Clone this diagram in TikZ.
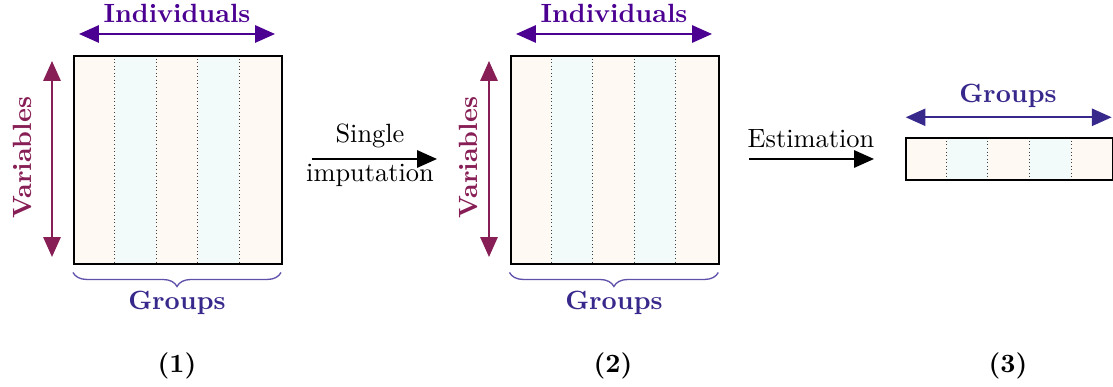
\documentclass[tikz,border=0pt]{standalone}
\usetikzlibrary{arrows.meta,decorations.pathreplacing}
\definecolor{indiv}{RGB}{75,0,145}
\definecolor{vars}{RGB}{135,30,85}
\definecolor{grp}{RGB}{55,40,140}
\definecolor{brc}{RGB}{95,80,170}
\definecolor{peach}{RGB}{255,249,244}
\definecolor{mint}{RGB}{243,250,250}
\begin{document}
\begin{tikzpicture}[x=0.379pt,y=-0.379pt,
  dbl/.style={line width=0.8pt,{Triangle[length=7.5pt,width=6.5pt]}-{Triangle[length=7.5pt,width=6.5pt]}},
  flow/.style={line width=0.8pt,-{Triangle[length=7.5pt,width=6.5pt]}},
  matbox/.style={draw,line width=0.8pt,inner sep=0pt,anchor=north west},
  sep/.style={densely dotted,line width=0.35pt,black!75},
  lab/.style={font=\bfseries,inner sep=0pt},
  bracestyle/.style={brc,line width=0.5pt,decorate,decoration={brace,mirror,amplitude=5.3pt}}]
\useasboundingbox (0,0) rectangle (1113,387);
% ---------- panel 1 ----------
\fill[peach] (73,55) rectangle (281,262.7);
\fill[mint] (114.7,55) rectangle (156,262.7);
\fill[mint] (197.7,55) rectangle (239.3,262.7);
\foreach \x in {114.7,156,197.7,239.3} \draw[sep] (\x,55) -- (\x,262.7);
\node[matbox,minimum width=78.83pt,minimum height=78.71pt] (m1) at (73,55) {};
\coordinate (i1l) at (79,34); \coordinate (i1r) at (275,34);
\draw[dbl,indiv] (i1l) -- (i1r);
\node[lab,text=indiv,anchor=base] (t1) at (177,23) {Individuals};
\coordinate (v1t) at (52,61); \coordinate (v1b) at (52,257);
\draw[dbl,vars] (v1t) -- (v1b);
\node[lab,text=vars,rotate=90] (tv1) at (22,158) {Variables};
\coordinate (b1l) at (73,272.5); \coordinate (b1r) at (281,272.5);
\draw[bracestyle] (b1l) -- (b1r);
\node[lab,text=grp,anchor=base] (g1) at (177,310) {Groups};
\node[lab] (n1) at (177,366) {(1)};
% ---------- arrow 1 ----------
\coordinate (a1s) at (311.7,159); \coordinate (a1e) at (437,159);
\draw[flow] (a1s) -- (a1e);
\node[inner sep=0pt,anchor=base] (s1) at (370,143) {Single};
\node[inner sep=0pt,anchor=base] (s2) at (370,182) {imputation};
% ---------- panel 2 ----------
\fill[peach] (509.5,55) rectangle (718.3,262.7);
\fill[mint] (551.2,55) rectangle (592.5,262.7);
\fill[mint] (634.2,55) rectangle (675.8,262.7);
\foreach \x in {551.2,592.5,634.2,675.8} \draw[sep] (\x,55) -- (\x,262.7);
\node[matbox,minimum width=79.1pt,minimum height=78.71pt] (m2) at (509.5,55) {};
\coordinate (i2l) at (516,34); \coordinate (i2r) at (712,34);
\draw[dbl,indiv] (i2l) -- (i2r);
\node[lab,text=indiv,anchor=base] (t2) at (614,23) {Individuals};
\coordinate (v2t) at (489,61); \coordinate (v2b) at (489,257);
\draw[dbl,vars] (v2t) -- (v2b);
\node[lab,text=vars,rotate=90] (tv2) at (468,158) {Variables};
\coordinate (b2l) at (509.5,272.5); \coordinate (b2r) at (718.3,272.5);
\draw[bracestyle] (b2l) -- (b2r);
\node[lab,text=grp,anchor=base] (g2) at (614,310) {Groups};
\node[lab] (n2) at (613,366) {(2)};
% ---------- arrow 2 ----------
\coordinate (a2s) at (749,159); \coordinate (a2e) at (874,159);
\draw[flow] (a2s) -- (a2e);
\node[inner sep=0pt,anchor=base] (e1) at (811,148) {Estimation};
% ---------- panel 3 ----------
\fill[peach] (904.5,137.3) rectangle (1112,179.3);
\fill[mint] (946.7,137.3) rectangle (987.7,179.3);
\fill[mint] (1029.3,137.3) rectangle (1071,179.3);
\foreach \x in {946.7,987.7,1029.3,1071} \draw[sep] (\x,137.3) -- (\x,179.3);
\node[matbox,minimum width=78.64pt,minimum height=15.92pt] (m3) at (904.5,137.3) {};
\coordinate (g3l) at (905.7,117.3); \coordinate (g3r) at (1111.7,117.3);
\draw[dbl,grp] (g3l) -- (g3r);
\node[lab,text=grp,anchor=base] (g3) at (1008,103) {Groups};
\node[lab] (n3) at (1008,366) {(3)};
\end{tikzpicture}
\end{document}
